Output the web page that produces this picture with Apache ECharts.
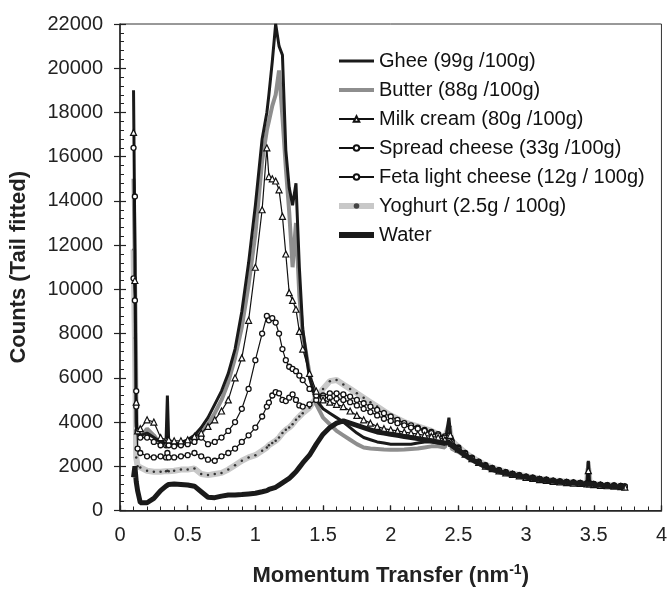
<!DOCTYPE html>
<html>
<head>
<meta charset="utf-8">
<script src="https://cdn.jsdelivr.net/npm/echarts@6/dist/echarts.min.js"></script>
<style>
  html, body { margin: 0; padding: 0; background: #fff; }
  #chart { width: 670px; height: 592px; }
</style>
</head>
<body>
<div id="chart"></div>
<script>
// momentum transfer (nm^-1) sample positions shared by all series
const q = [
  0.10, 0.11, 0.12, 0.13, 0.15, 0.2, 0.25, 0.3, 0.34, 0.35, 0.36,
  0.4, 0.45, 0.5, 0.55, 0.6, 0.65, 0.7, 0.75, 0.8, 0.85, 0.9, 0.95,
  1.0, 1.05, 1.085, 1.1, 1.125, 1.15, 1.175, 1.2, 1.225, 1.25, 1.275, 1.3, 1.325, 1.35,
  1.4, 1.45, 1.5, 1.55, 1.6, 1.65, 1.7, 1.75, 1.8, 1.85, 1.9, 1.95, 2.0, 2.05, 2.1, 2.15, 2.2, 2.25, 2.3, 2.35, 2.4,
  2.43, 2.44,
  2.45, 2.5, 2.55, 2.6, 2.65, 2.7, 2.75, 2.8, 2.85, 2.9, 2.95, 3.0, 3.05, 3.1, 3.15, 3.2, 3.25, 3.3, 3.35, 3.4, 3.45,
  3.46, 3.47, 3.5, 3.55, 3.6, 3.65, 3.7, 3.73
];

const ghee = [
  19000, 12000, 3800, 3500, 3400, 3500, 3300, 3100, 3100, 5200, 3100,
  3000, 3050, 3200, 3400, 3750, 4200, 4800, 5400, 6200, 7300, 9000, 11200,
  13800, 16800, 18000, 18800, 20300, 22000, 21000, 20600, 16300, 14600, 13800, 14800, 11000, 8200,
  6000, 5000, 4600, 4400, 4200, 4000, 3750, 3500, 3300, 3200, 3100, 3050, 3000, 3000, 3000, 3000, 3050, 3100, 3100, 3050, 3000,
  4200, 4200,
  2900, 2700, 2500, 2300, 2130, 1980, 1860, 1760, 1670, 1600, 1540, 1480, 1430, 1380, 1340, 1300, 1270, 1240, 1220, 1200, 1180,
  2250, 1180, 1150, 1120, 1100, 1080, 1060, 1040
];
const butter = [
  15000, 11000, 4000, 3500, 3300, 3700, 3400, 3000, 3000, 3000, 3000,
  2950, 3000, 3100, 3300, 3500, 3900, 4400, 5000, 5800, 6900, 8300, 10200,
  12500, 15800, 17200, 17600, 18300, 18800, 19900, 17800, 15500, 13500, 11000, 13000, 9700, 8000,
  6200, 4800, 4200, 3900, 3600, 3400, 3200, 3000, 2850, 2800, 2780, 2760, 2750, 2750, 2760, 2780, 2800, 2850, 2900, 2900, 2850,
  3900, 3900,
  2800, 2650, 2450, 2260, 2100, 1950, 1830, 1730, 1650, 1580, 1520, 1460, 1410, 1360, 1320, 1290, 1260, 1230, 1210, 1190, 1170,
  2200, 1170, 1140, 1110, 1090, 1070, 1050, 1030
];
const milkCream = [
  17100, 10400, 4900, 3600, 3700, 4100, 4000, 3300, 3200, 3200, 3200,
  3150, 3150, 3200, 3350, 3500, 3800, 4100, 4500, 5000, 6000, 6900, 8600,
  11000, 13600, 16400, 15100, 15000, 14900, 14500, 13300, 11600, 9850, 9500, 9100, 8100, 7300,
  6200, 5400, 5000, 4900, 4800, 4700, 4500, 4300, 4100, 3950, 3800, 3700, 3650, 3600, 3550, 3500, 3450, 3400, 3350, 3300, 3200,
  3400, 3400,
  3050, 2780, 2550, 2340, 2170, 2010, 1890, 1790, 1700, 1630, 1570, 1500, 1450, 1400, 1360, 1320, 1290, 1260, 1240, 1220, 1200,
  1800, 1200, 1170, 1140, 1120, 1100, 1080, 1060
];
const spreadCheese = [
  16400, 14200, 5400, 3600, 3300, 3300, 3100, 2950, 2950, 3000, 2950,
  2900, 2950, 3000, 3100, 3300, 3000, 3100, 3300, 3600, 4000, 4600, 5500,
  6800, 8000, 8800, 8600, 8700, 8500, 8000, 7300, 6800, 6500, 6400, 6300, 6100, 5900,
  5500, 5200, 5100, 5100, 5050, 5000, 4900, 4750, 4600, 4450, 4300, 4150, 4050, 3950, 3850, 3750, 3700, 3600, 3500, 3400, 3300,
  3250, 3250,
  3100, 2800, 2570, 2360, 2190, 2030, 1910, 1810, 1720, 1650, 1590, 1520, 1470, 1420, 1380, 1340, 1310, 1280, 1260, 1240, 1220,
  1220, 1210, 1190, 1160, 1140, 1120, 1100, 1080
];
const fetaLight = [
  10500, 9500, 4700, 2800, 2600, 2450, 2400, 2450, 2400, 2600, 2400,
  2400, 2450, 2500, 2600, 2450, 2300, 2250, 2450, 2600, 2800, 3100, 3400,
  3750, 4250, 4700, 4880, 5200, 5350, 5300, 5000, 4950, 5100, 5250, 5000, 4750, 4700,
  4800, 5000, 5200, 5300, 5300, 5250, 5150, 5000, 4850, 4700, 4550, 4400, 4250, 4100, 3950, 3850, 3750, 3650, 3550, 3450, 3350,
  3300, 3300,
  3150, 2850, 2600, 2390, 2210, 2050, 1920, 1820, 1730, 1660, 1600, 1530, 1480, 1430, 1390, 1350, 1320, 1290, 1270, 1250, 1230,
  1230, 1220, 1200, 1170, 1150, 1130, 1110, 1090
];
const yoghurt = [
  11800, 7800, 2400, 2000, 1950, 1800, 1750, 1750, 1780, 1800, 1780,
  1800, 1850, 1850, 1900, 1650, 1600, 1650, 1700, 1850, 2050, 2250, 2400,
  2500, 2700, 2850, 2950, 3050, 3150, 3300, 3500, 3650, 3750, 3900, 4100, 4250, 4400,
  4650, 5100, 5500, 5850, 5900, 5700, 5500, 5300, 5100, 4900, 4700, 4500, 4300, 4150, 4000, 3900, 3800, 3700, 3600, 3450, 3300,
  3800, 3800,
  3150, 2880, 2620, 2400, 2220, 2070, 1940, 1840, 1750, 1680, 1610, 1550, 1490, 1440, 1400, 1360, 1330, 1300, 1270, 1250, 1230,
  1900, 1230, 1200, 1170, 1150, 1130, 1110, 1090
];
const water = [
  1500, 2000, 1300, 900, 350, 350, 550, 900, 1100, 1150, 1180,
  1200, 1180, 1150, 1100, 850, 600, 580, 650, 700, 700, 720, 750,
  780, 850, 900, 950, 1000, 1050, 1150, 1250, 1350, 1450, 1600, 1750, 1950, 2150,
  2500, 3000, 3450, 3750, 3950, 4050, 3950, 3850, 3750, 3650, 3550, 3500, 3450, 3400, 3350, 3300, 3250, 3200, 3150, 3100, 3050,
  3050, 3050,
  2950, 2720, 2500, 2300, 2140, 1990, 1870, 1770, 1690, 1620, 1560, 1500, 1450, 1400, 1360, 1320, 1290, 1260, 1240, 1220, 1200,
  1200, 1200, 1170, 1140, 1110, 1090, 1070, 1050
];

const names = [
  "Ghee (99g /100g)",
  "Butter (88g /100g)",
  "Milk cream (80g /100g)",
  "Spread cheese (33g /100g)",
  "Feta light cheese (12g / 100g)",
  "Yoghurt (2.5g / 100g)",
  "Water"
];

const FONT = "Liberation Sans";

const pairs = (vals, label) => {
  if (vals.length !== q.length) throw new Error(label + " length " + vals.length + " != " + q.length);
  return q.map((x, i) => [x, vals[i]]);
};

const chart = echarts.init(document.getElementById("chart"), null, { renderer: "canvas" });

const xAxisBase = {
  type: "value", min: 0, max: 4, interval: 0.5,
  axisLine: { show: true, onZero: false, lineStyle: { color: "#222", width: 1.5 } },
  splitLine: { show: false }
};
const yAxisBase = {
  type: "value", min: 0, max: 22000, interval: 2000,
  axisLine: { show: true, onZero: false, lineStyle: { color: "#222", width: 1.5 } },
  splitLine: { show: false }
};

chart.setOption({
  animation: false,
  backgroundColor: "#fff",
  textStyle: { fontFamily: FONT },
  grid: { left: 120, right: 6, top: 24, bottom: 68, show: true, borderColor: "#333", borderWidth: 1, backgroundColor: "transparent" },
  legend: {
    orient: "vertical",
    left: 331,
    top: 46,
    itemWidth: 35,
    itemHeight: 7,
    itemGap: 9,
    data: [
      { name: names[0], icon: "path://M0,0H35V3H0Z" },
      { name: names[1], icon: "path://M0,0H35V4H0Z" },
      { name: names[2] },
      { name: names[3] },
      { name: names[4] },
      { name: names[5], itemStyle: { color: "#444" }, lineStyle: { color: "#c8c8c8", width: 6 } },
      { name: names[6], icon: "path://M0,0H35V6H0Z" }
    ],
    textStyle: { fontFamily: FONT, fontSize: 20, color: "#111", lineHeight: 19 }
  },
  xAxis: [
    Object.assign({}, xAxisBase, {
      name: "Momentum Transfer (nm{sup|-1})",
      nameLocation: "middle",
      nameGap: 53,
      nameTextStyle: {
        fontFamily: FONT, fontSize: 22, fontWeight: "bold", color: "#222",
        rich: { sup: { fontFamily: FONT, fontSize: 14, fontWeight: "bold", color: "#222", padding: [0, 0, 11, 0] } }
      },
      axisTick: { show: true, inside: true, length: 5, lineStyle: { color: "#222", width: 1.2 } },
      minorTick: { show: true, splitNumber: 5, length: 4, lineStyle: { color: "#222", width: 1 } },
      axisLabel: { fontFamily: FONT, fontSize: 20, color: "#222", margin: 15 }
    }),
    Object.assign({}, xAxisBase, {
      axisLine: { show: false },
      axisTick: { show: true, inside: false, length: 5, lineStyle: { color: "#222", width: 1.2 } },
      axisLabel: { show: false }
    })
  ],
  yAxis: [
    Object.assign({}, yAxisBase, {
      name: "Counts (Tail fitted)",
      nameLocation: "middle",
      nameGap: 90,
      nameTextStyle: { fontFamily: FONT, fontSize: 22, fontWeight: "bold", color: "#222" },
      axisTick: { show: true, inside: true, length: 6, lineStyle: { color: "#222", width: 1.2 } },
      minorTick: { show: true, splitNumber: 5, length: 4, lineStyle: { color: "#222", width: 1 } },
      axisLabel: { fontFamily: FONT, fontSize: 20, color: "#222", margin: 17, formatter: (v) => String(v) }
    }),
    Object.assign({}, yAxisBase, {
      position: "left",
      axisLine: { show: false },
      axisTick: { show: true, inside: false, length: 6, lineStyle: { color: "#222", width: 1.2 } },
      axisLabel: { show: false }
    })
  ],
  series: [
    {
      name: names[5], type: "line", z: 1, data: pairs(yoghurt, "yoghurt"),
      symbol: "circle", symbolSize: 2.5,
      itemStyle: { color: "#333" },
      lineStyle: { color: "#c8c8c8", width: 6 }
    },
    {
      name: names[1], type: "line", z: 2, data: pairs(butter, "butter"),
      symbol: "none",
      itemStyle: { color: "#8e8e8e" },
      lineStyle: { color: "#8e8e8e", width: 4 }
    },
    {
      name: names[0], type: "line", z: 3, data: pairs(ghee, "ghee"),
      symbol: "none",
      itemStyle: { color: "#1a1a1a" },
      lineStyle: { color: "#1a1a1a", width: 3 }
    },
    {
      name: names[4], type: "line", z: 3, data: pairs(fetaLight, "feta"),
      symbol: "circle", symbolSize: 5,
      itemStyle: { color: "#fff", borderColor: "#111", borderWidth: 1.3 },
      lineStyle: { color: "#111", width: 1.2 }
    },
    {
      name: names[3], type: "line", z: 3, data: pairs(spreadCheese, "spread"),
      symbol: "circle", symbolSize: 5,
      itemStyle: { color: "#fff", borderColor: "#111", borderWidth: 1.3 },
      lineStyle: { color: "#111", width: 1.2 }
    },
    {
      name: names[2], type: "line", z: 3, data: pairs(milkCream, "milk"),
      symbol: "triangle", symbolSize: 6,
      itemStyle: { color: "#fff", borderColor: "#111", borderWidth: 1.2 },
      lineStyle: { color: "#111", width: 1.2 }
    },
    {
      name: names[6], type: "line", z: 4, data: pairs(water, "water"),
      symbol: "none",
      itemStyle: { color: "#1a1a1a" },
      lineStyle: { color: "#1a1a1a", width: 5 }
    }
  ]
});
</script>
</body>
</html>
